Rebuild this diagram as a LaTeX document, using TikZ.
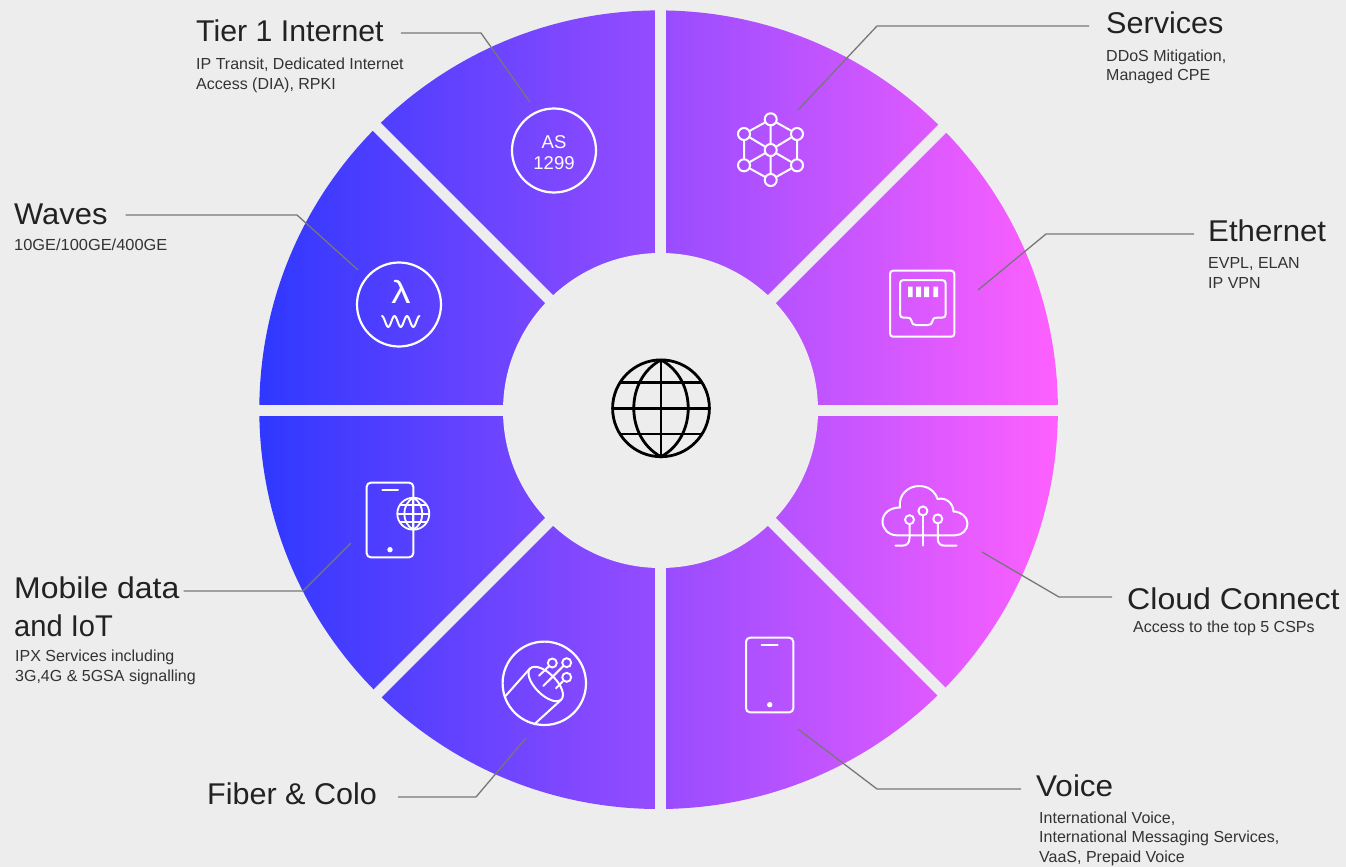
\documentclass[tikz,border=0pt]{standalone}
\usepackage{graphicx}
\usepackage{fontspec}
\setmainfont{Liberation Sans}
\definecolor{bg}{HTML}{EDEDED}
\definecolor{ink}{HTML}{222222}
\definecolor{subink}{HTML}{333333}
\definecolor{leadc}{HTML}{777777}
\definecolor{gl}{HTML}{2E38FF}
\definecolor{gm}{HTML}{9A4CFF}
\definecolor{gr}{HTML}{FF60FF}
\newcommand{\tsc}[2]{\scalebox{#1}[1]{#2}}
\newcommand{\globeicon}[5]{% cx cy r colour linewidth
  \begin{scope}[shift={(#1,#2)},draw=#4,line width=#5]
    \draw (0,0) circle [radius=#3];
    \draw (0,-#3) .. controls (0.75*#3,-0.6*#3) and (0.75*#3,0.6*#3) .. (0,#3)
       .. controls (-0.75*#3,0.6*#3) and (-0.75*#3,-0.6*#3) .. (0,-#3);
    \draw (0,-#3) -- (0,#3);
    \draw (-#3,0) -- (#3,0);
    \draw (-0.845*#3,-0.53*#3) -- (0.845*#3,-0.53*#3);
    \draw (-0.845*#3,0.53*#3) -- (0.845*#3,0.53*#3);
  \end{scope}}
\tikzset{
  ttl/.style={anchor=base west,inner sep=0pt,text=ink,font=\fontsize{30}{36}\selectfont},
  subt/.style={anchor=base west,inner sep=0pt,text=subink,font=\fontsize{16}{19.5}\selectfont,align=left},
  leader/.style={draw=leadc,line width=1.3pt},
  gapline/.style={draw=bg,line width=11pt},
  icon/.style={draw=white,line width=2pt,line join=round,line cap=round},
  ringicon/.style={circle,draw=white,line width=2.2pt,minimum size=84pt,inner sep=0pt},
  icontext/.style={inner sep=0pt,text=white,align=center},
  hub/.style={circle,draw=white,line width=2pt,minimum size=12pt,inner sep=0pt},
  pin/.style={circle,draw=white,line width=1.9pt,minimum size=9pt,inner sep=0pt},
}
\begin{document}
\begin{tikzpicture}[x=1pt,y=-1pt]
\useasboundingbox (0,0) rectangle (1346,867);
\fill[bg] (0,0) rectangle (1346,867);
% wheel
\begin{scope}
  \clip (658.6,409.7) circle [radius=399.3];
  \shade[left color=gl,middle color=gm,right color=gr] (256,5) rectangle (1061,815);
\end{scope}
\fill[bg] (660.5,410.5) circle [radius=157.5];
\draw[gapline] (660.5,0) -- (660.5,830);
\draw[gapline] (240,410) -- (1080,410);
\draw[gapline] (360,110) -- (960,710);
\draw[gapline] (360,711) -- (960,111);
% central globe
\globeicon{661}{408.3}{48.4}{black}{2.8pt}
% Tier 1 icon
\node[ringicon] (as) at (554,150.5) {};
\node[icontext,font=\fontsize{18.5}{21.5}\selectfont] (astxt) at (554,152.5) {AS\\1299};
% Waves icon
\node[ringicon] (wave) at (399,304.5) {};
\node[icontext,font=\fontsize{32}{32}\selectfont] (lam) at (401,292) {\tsc{1.2}{λ}};
\draw[icon] plot[smooth,domain=0:3,samples=37] ({382+12.5*\x},{321.5-5.5*cos(360*\x)});
% Services icon
\node[hub] (h0) at (770.7,150) {};
\node[hub] (h1) at (770.7,119.3) {};
\node[hub] (h2) at (797,134) {};
\node[hub] (h3) at (797,165.3) {};
\node[hub] (h4) at (770.7,180) {};
\node[hub] (h5) at (744,165.3) {};
\node[hub] (h6) at (744,134) {};
\draw[icon] (h1)--(h2) (h2)--(h3) (h3)--(h4) (h4)--(h5) (h5)--(h6) (h6)--(h1);
\draw[icon] (h0)--(h1) (h0)--(h2) (h0)--(h3) (h0)--(h4) (h0)--(h5) (h0)--(h6);
% Ethernet icon
\draw[icon,rounded corners=3pt] (890,270.7) rectangle (954.3,336.7);
\draw[icon] (903.5,280) -- (942,280) .. controls (944.5,280) and (945.7,281.5) .. (945.7,283.5)
  -- (945.7,314) .. controls (945.7,316.5) and (944.5,317.7) .. (942,317.7)
  -- (937,317.7) .. controls (933.5,317.7) and (933,319) .. (932.5,321)
  .. controls (932,324) and (930.5,325) .. (928,325) -- (916,325)
  .. controls (913.5,325) and (912,324) .. (911.5,321)
  .. controls (911,319) and (910.5,317.7) .. (907,317.7)
  -- (903.5,317.7) .. controls (901,317.7) and (900,316.5) .. (900,314)
  -- (900,283.5) .. controls (900,281.5) and (901,280) .. (903.5,280) -- cycle;
\fill[white] (908,286.7) rectangle (912.7,297) (916,286.7) rectangle (921,297)
  (924,286.7) rectangle (929,297) (933.3,286.7) rectangle (938,297);
% Mobile icon
\draw[icon,rounded corners=4pt] (366.7,482.7) rectangle (413.3,557.3);
\draw[icon] (382.3,490) -- (398,490);
\fill[white] (390,549.7) circle [radius=2.7];
\globeicon{413.3}{513.7}{16}{white}{1.8pt}
% Fiber icon
\node[ringicon,minimum size=83.4pt] (fib) at (544.3,683.3) {};
\node[pin] (f1) at (552.3,663) {};
\node[pin] (f2) at (566.7,662.7) {};
\node[pin] (f3) at (566.7,677.3) {};
\draw[icon] (545.7,684) ellipse [x radius=22, y radius=10.5, rotate=-45];
\draw[icon] (530,668.4) -- (505.5,696);
\draw[icon] (561.3,699.6) -- (534.3,724.3);
\draw[icon] (f1) -- (539,675.7);
\draw[icon] (f2) -- (543.3,686);
\draw[icon] (f3) -- (556,688.3);
% Cloud icon
\draw[icon] (897,535.3) .. controls (888.5,535.3) and (882.5,529) .. (882.5,521.5)
  .. controls (882.5,514) and (889,507.5) .. (900,507.5)
  .. controls (898,495) and (908,486) .. (919,486)
  .. controls (928,486) and (935,491) .. (937.5,499)
  .. controls (946,497) and (953,503) .. (953.5,511.5)
  .. controls (961,511.5) and (967.5,517) .. (967.5,523.5)
  .. controls (967.5,530) and (962,535.3) .. (955,535.3) -- cycle;
\node[pin] (c1) at (909.5,519.7) {};
\node[pin] (c2) at (922.9,510.9) {};
\node[pin] (c3) at (937.8,518.9) {};
\draw[icon] (c2) -- (922.9,545.5);
\draw[icon] (c1) -- (909.5,538) .. controls (909.5,543) and (907,545.7) .. (902,545.7) -- (895.5,545.7);
\draw[icon] (c3) -- (937.8,539) .. controls (937.8,543) and (940,545.7) .. (945,545.7) -- (956.5,545.7);
% Voice phone icon
\draw[icon,rounded corners=4pt] (746,637.7) rectangle (793.3,712.3);
\draw[icon] (761.7,645) -- (777.7,645);
\fill[white] (769.7,704.7) circle [radius=2.7];
% Labels
\node[ttl] (tier) at (196,42) {\tsc{1.01}{Tier 1 Internet}};
\node[subt] (tiers) at (196,89) {IP Transit, Dedicated Internet\\Access (DIA), RPKI};
\node[ttl] (waves) at (14,224) {\tsc{1.03}{Waves}};
\node[subt] (wavess) at (14,250) {\tsc{1.025}{10GE/100GE/400GE}};
\node[ttl] (serv) at (1106,34) {\tsc{1.02}{Services}};
\node[subt] (servs) at (1106,81) {DDoS Mitigation,\\Managed CPE};
\node[ttl] (eth) at (1208,241) {\tsc{1.04}{Ethernet}};
\node[subt] (eths) at (1208,288) {EVPL, ELAN\\IP VPN};
\node[ttl] (cloud) at (1127,609) {\tsc{1.07}{Cloud Connect}};
\node[subt] (clouds) at (1133,632) {Access to the top 5 CSPs};
\node[ttl] (voice) at (1036,796) {\tsc{1.05}{Voice}};
\node[subt] (voices) at (1039,862) {International Voice,\\International Messaging Services,\\VaaS, Prepaid Voice};
\node[ttl] (fiber) at (207,804) {\tsc{1.018}{Fiber \& Colo}};
\node[ttl] (mob) at (14,598) {\tsc{1.065}{Mobile data}};
\node[ttl] (iot) at (14,636) {\tsc{.97}{and IoT}};
\node[subt] (mobs) at (15,681) {IPX Services including\\3G,4G \& 5GSA signalling};
% Leader lines
\coordinate (tierE) at (530,102);
\coordinate (wavesE) at (358,270);
\coordinate (servE) at (798,110);
\coordinate (ethE) at (978,290);
\coordinate (cloudE) at (982,552);
\coordinate (voiceE) at (798,729);
\coordinate (fiberE) at (526,738);
\coordinate (mobE) at (351,543);
\draw[leader] ([shift={(17,-9)}]tier.base east) -- (481,33) -- (tierE);
\draw[leader] ([shift={(18,-9)}]waves.base east) -- (297,215) -- (wavesE);
\draw[leader] ([shift={(-17,-8)}]serv.base west) -- (877,26) -- (servE);
\draw[leader] ([shift={(-14,-7)}]eth.base west) -- (1046,234) -- (ethE);
\draw[leader] ([shift={(-15,-12)}]cloud.base west) -- (1059,597) -- (cloudE);
\draw[leader] ([shift={(-15,-7)}]voice.base west) -- (877,789) -- (voiceE);
\draw[leader] ([shift={(21,-7)}]fiber.base east) -- (476,797) -- (fiberE);
\draw[leader] ([shift={(4,-7)}]mob.base east) -- (303,591) -- (mobE);
\end{tikzpicture}
\end{document}
